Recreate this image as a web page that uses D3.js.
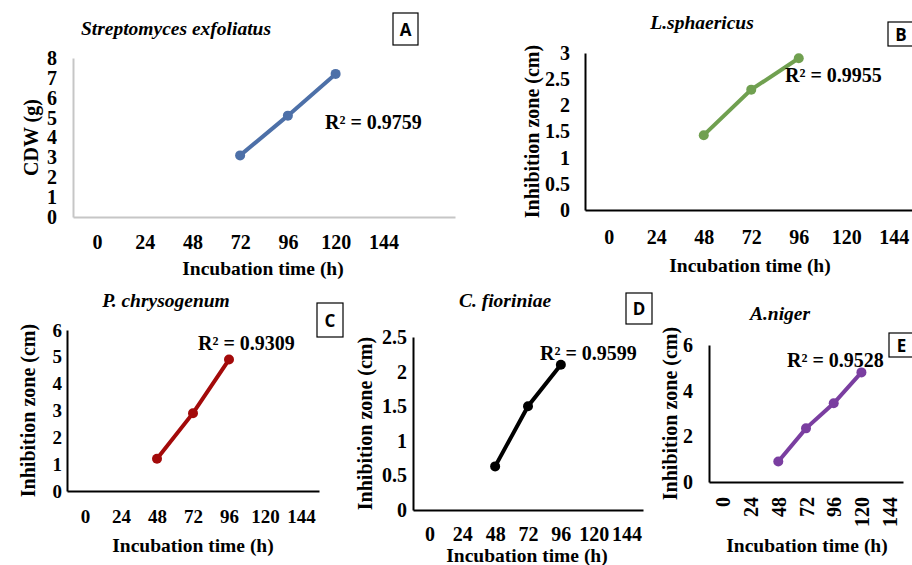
<!DOCTYPE html>
<html>
<head>
<meta charset="utf-8">
<script src="https://cdn.jsdelivr.net/npm/d3@7"></script>
<style>
  body { margin: 0; background: #fff; }
  svg { display: block; }
  text { font-family: "Liberation Serif", "Times New Roman", serif; font-weight: bold; fill: #000; }
</style>
</head>
<body>
<div id="chart"></div>
<script>
// values
const xTicks = [0, 24, 48, 72, 96, 120, 144];

const hoursA = [72, 96, 120];
const cdwA = [3.1, 5.1, 7.2];

const hoursB = [48, 72, 96];
const zoneB = [1.43, 2.3, 2.9];

const hoursC = [48, 72, 96];
const zoneC = [1.2, 2.9, 4.9];

const hoursD = [48, 72, 96];
const zoneD = [0.63, 1.5, 2.1];

const hoursE = [48, 72, 96, 120];
const zoneE = [0.9, 2.35, 3.45, 4.8];

const titles = ["Streptomyces exfoliatus", "L.sphaericus", "P. chrysogenum", "C. fioriniae", "A.niger"];
const letters = ["A", "B", "C", "D", "E"];
const r2Labels = ["R² = 0.9759", "R² = 0.9955", "R² = 0.9309", "R² = 0.9599", "R² = 0.9528"];
const yLabels = ["CDW (g)", "Inhibition zone (cm)", "Inhibition zone (cm)", "Inhibition zone (cm)", "Inhibition zone (cm)"];
const yTicksA = [0, 1, 2, 3, 4, 5, 6, 7, 8];
const yTicksB = [0, 0.5, 1, 1.5, 2, 2.5, 3];
const yTicksC = [0, 1, 2, 3, 4, 5, 6];
const yTicksD = [0, 0.5, 1, 1.5, 2, 2.5];
const yTicksE = [0, 2, 4, 6];

const svg = d3.select("#chart").append("svg")
    .attr("width", 912)
    .attr("height", 565);

const panels = [
  { hours: hoursA, vals: cdwA, yTicks: yTicksA, color: "#4d70a8", axisColor: "#c6c6c6",
    x0: 73, x1: 455, xMax: 180, y0: 217, y1: 58, yMax: 8, tickGap: 16, tickSize: 20, xTickDy: 18,
    title: [176, 28], box: [393, 13, 25, 32], r2: [325, 122], yLab: 31, xLab: [263, 268] },
  { hours: hoursB, vals: zoneB, yTicks: yTicksB, color: "#70a050", axisColor: "#000",
    x0: 585, x1: 965, xMax: 180, y0: 210, y1: 53, yMax: 3, tickGap: 15, tickSize: 20, xTickDy: 20,
    title: [702, 22], box: [888, 22, 26, 24], r2: [785, 75], yLab: 532, xLab: [750, 265] },
  { hours: hoursC, vals: zoneC, yTicks: yTicksC, color: "#a30a0a", axisColor: "#000",
    x0: 67, x1: 319, xMax: 156, y0: 491, y1: 330, yMax: 6, tickGap: 5, tickSize: 19, xTickDy: 19,
    title: [166, 300], box: [317, 303, 26, 34], r2: [198, 343], yLab: 28, xLab: [193, 545] },
  { hours: hoursD, vals: zoneD, yTicks: yTicksD, color: "#000", axisColor: "#000",
    x0: 413, x1: 643, xMax: 156, y0: 510, y1: 337, yMax: 2.5, tickGap: 6, tickSize: 20, xTickDy: 17,
    title: [505, 300], box: [626, 293, 26, 31], r2: [540, 353], yLab: 365, xLab: [527, 555] },
  { hours: hoursE, vals: zoneE, yTicks: yTicksE, color: "#7a3ea0", axisColor: "#000",
    x0: 709, x1: 903, xMax: 156, y0: 482, y1: 345, yMax: 6, tickGap: 16, tickSize: 20, xTickDy: 15, rotate: true,
    title: [780, 313], box: [889, 333, 25, 24], r2: [787, 360], yLab: 670, xLab: [807, 545] }
];

panels.forEach((p, i) => {
  const x = d3.scaleLinear().domain([-12, p.xMax]).range([p.x0, p.x1]);
  const y = d3.scaleLinear().domain([0, p.yMax]).range([p.y0, p.y1]);
  const g = svg.append("g");

  // axes (no tick marks, just the lines)
  const xAxis = g.append("g")
      .attr("transform", `translate(0,${p.y0})`)
      .call(d3.axisBottom(x).tickValues(xTicks).tickSize(0).tickPadding(p.xTickDy));
  xAxis.select(".domain").attr("stroke", p.axisColor).attr("stroke-width", 2);
  xAxis.selectAll("text")
      .style("font-size", p.tickSize + "px")
      .attr("fill", "#000");
  if (p.rotate) {
    xAxis.selectAll("text")
        .attr("transform", "rotate(-90)")
        .attr("dy", "0.35em")
        .attr("y", 0)
        .attr("x", -p.xTickDy)
        .style("text-anchor", "end");
  }

  const yAxis = g.append("g")
      .attr("transform", `translate(${p.x0},0)`)
      .call(d3.axisLeft(y).tickValues(p.yTicks).tickSize(0).tickPadding(p.tickGap)
        .tickFormat(d => String(d)));
  yAxis.select(".domain").attr("stroke", p.axisColor).attr("stroke-width", 2);
  yAxis.selectAll("text")
      .style("font-size", p.tickSize + "px")
      .attr("fill", "#000");

  // series
  const pts = p.hours.map((h, k) => ({ h: h, v: p.vals[k] }));
  const line = d3.line().x(d => x(d.h)).y(d => y(d.v));
  g.append("path")
      .datum(pts)
      .attr("fill", "none")
      .attr("stroke", p.color)
      .attr("stroke-width", 4)
      .attr("d", line);
  g.selectAll("circle")
      .data(pts)
      .enter()
      .append("circle")
      .attr("cx", d => x(d.h))
      .attr("cy", d => y(d.v))
      .attr("r", 5)
      .attr("fill", p.color);

  // labels
  g.append("text")
      .attr("x", p.title[0]).attr("y", p.title[1])
      .attr("text-anchor", "middle")
      .attr("dominant-baseline", "central")
      .style("font-style", "italic")
      .style("font-size", "19.5px")
      .text(titles[i]);

  g.append("text")
      .attr("x", p.r2[0]).attr("y", p.r2[1])
      .attr("dominant-baseline", "central")
      .style("font-size", "20px")
      .text(r2Labels[i]);

  g.append("text")
      .attr("transform", `translate(${p.yLab},${(p.y0 + p.y1) / 2}) rotate(-90)`)
      .attr("text-anchor", "middle")
      .attr("dominant-baseline", "central")
      .style("font-size", "20px")
      .text(yLabels[i]);

  g.append("text")
      .attr("x", p.xLab[0]).attr("y", p.xLab[1])
      .attr("text-anchor", "middle")
      .attr("dominant-baseline", "central")
      .style("font-size", "19.5px")
      .text("Incubation time (h)");

  // panel letter box
  g.append("rect")
      .attr("x", p.box[0]).attr("y", p.box[1])
      .attr("width", p.box[2]).attr("height", p.box[3])
      .attr("fill", "#fff")
      .attr("stroke", "#000")
      .attr("stroke-width", 1.2);
  g.append("text")
      .attr("x", p.box[0] + p.box[2] / 2).attr("y", p.box[1] + p.box[3] / 2)
      .attr("text-anchor", "middle")
      .attr("dominant-baseline", "central")
      .style("font-family", "'Open Sans', sans-serif")
      .style("font-size", "17px")
      .text(letters[i]);
});
</script>
</body>
</html>
